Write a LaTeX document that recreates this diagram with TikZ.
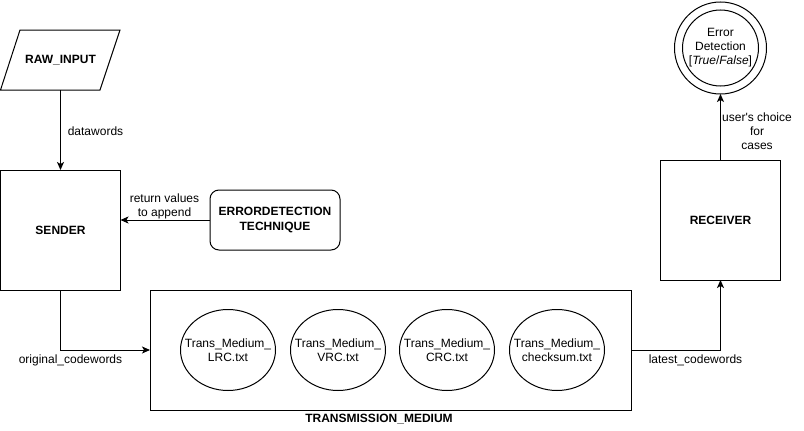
\documentclass[tikz,border=0pt]{standalone}
\usepackage{fontspec}
\setmainfont{Liberation Sans}[Ligatures=TeXOff]
\usetikzlibrary{arrows.meta,shapes.geometric}
\begin{document}
\begin{tikzpicture}[x=1pt,y=-1pt,line width=1pt,
  every node/.style={font=\fontsize{12}{14}\selectfont, inner sep=0pt, outer sep=0pt},
  sq/.style={draw, minimum width=120pt, minimum height=120pt, font=\fontsize{12}{14}\selectfont\bfseries},
  rbox/.style={draw, rounded corners=9pt, minimum width=130pt, minimum height=60pt, align=center, font=\fontsize{12}{15}\selectfont\bfseries},
  file/.style={draw, ellipse, minimum width=95pt, minimum height=81pt, label={[align=center]center:#1}},
  lbl/.style={align=center},
  boldlbl/.style={font=\fontsize{12}{14}\selectfont\bfseries},
  arr/.style={-{Stealth[length=8pt,width=7pt,inset=2pt]}},
]
\useasboundingbox (0,0) rectangle (804,431);
\fill[white] (0,0) rectangle (804,431);

% RAW_INPUT parallelogram
\draw (20,30) -- (120,30) -- (100,90) -- (0.5,90) -- cycle;
\node[boldlbl, minimum width=100pt, minimum height=60pt] (raw) at (60.5,60) {RAW\_INPUT};

% SENDER
\node[sq] (sender) at (60.5,230) {SENDER};
\draw[arr] (raw.south) -- (sender.north);
\node[lbl] (dw) at (95.5,131) {datawords};

% ERRORDETECTION TECHNIQUE
\node[rbox] (edt) at (275,220) {ERRORDETECTION\\TECHNIQUE};
\draw[arr] (edt.west) -- (edt.west -| sender.east);
\node[lbl] (rv) at (164.5,206) {return values\\to append};

% TRANSMISSION MEDIUM
\node[draw, minimum width=481pt, minimum height=120pt] (tm) at (390.5,350) {};
\node[boldlbl] (tml) at (379,419) {TRANSMISSION\_MEDIUM};
\node[file={Trans\_Medium\_\\LRC.txt}] (lrc) at (228,350) {};
\node[file={Trans\_Medium\_\\VRC.txt}] (vrc) at (338,350) {};
\node[file={Trans\_Medium\_\\CRC.txt}] (crc) at (447,350) {};
\node[file={Trans\_Medium\_\\checksum.txt}] (chk) at (557,350) {};

\draw[arr] (sender.south) |- (tm.west);
\node[lbl] (oc) at (70.5,360) {original\_codewords};

% RECEIVER
\node[sq] (receiver) at (720.5,220) {RECEIVER};
\draw[arr] (tm.east) -| (receiver.south);
\node[lbl] (lc) at (695.5,360) {latest\_codewords};

% Error detection double circle
\node[draw, circle, minimum size=92pt, align=center] (err) at (720.5,48) {Error\\Detection\\{[}\textit{True}/\textit{False}]};
\draw (err.center) circle[radius=38pt];
\draw[arr] (receiver.north) -- (err.south);
\node[lbl] (uc) at (757,131) {user's choice\\for\\cases};
\end{tikzpicture}
\end{document}
